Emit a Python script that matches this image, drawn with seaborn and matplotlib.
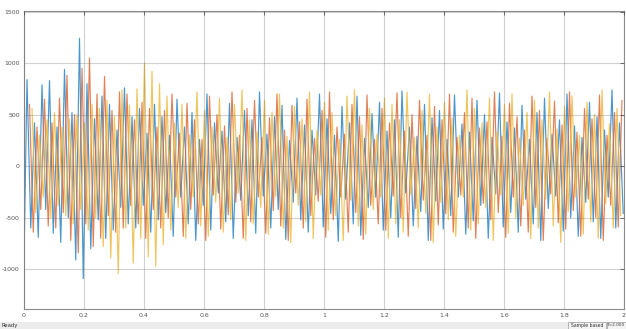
import numpy as np
import pandas as pd
import matplotlib
matplotlib.use("Agg")
import matplotlib.pyplot as plt
import seaborn as sns
from matplotlib.patches import Rectangle

# ---------------- data ----------------
freq_hz = 40.0            # cycles per second of each phase
n_cycles = 80
start_value_a = -910      # phase A value at t = 0

peaks_a = [840, 420, 790, 830, 380, 940, 520, 1240, 800, 460, 680, 600, 350, 760, 480, 560, 320, 600,
           480, 300, 650, 380, 520, 260, 700, 420, 340, 610, 280, 540, 450, 720, 310, 480, 590, 250, 660, 400,
           350, 700, 460, 300, 580, 420, 680, 270, 510, 620, 340, 450, 730, 380, 290, 600, 470, 540, 260, 690,
           410, 330, 640, 500, 280, 710, 430, 370, 590, 260, 520, 660, 310, 450, 700, 390, 280, 620, 480, 350,
           740, 420]
troughs_a = [-600, -690, -420, -650, -740, -500, -910, -1090, -800, -520, -700, -620, -400, -560, -600, -380, -640, -520,
             -450, -680, -300, -560, -720, -380, -620, -260, -540, -700, -330, -480, -650, -290, -600, -420, -710, -350,
             -520, -640, -280, -590, -460, -730, -320, -560, -670, -400, -300, -620, -500, -690, -260, -580, -440, -720,
             -340, -610, -480, -300, -660, -530, -380, -700, -270, -590, -450, -640, -320, -560, -720, -410, -290, -630,
             -500, -680, -350, -540, -700, -300, -600, -460]

peaks_b = [600, 380, 650, 420, 660, 880, 500, 950, 1050, 700, 870, 540, 720, 700, 450, 620, 560, 380,
           540, 700, 320, 610, 450, 260, 680, 500, 390, 720, 300, 560, 640, 280, 470, 700, 350, 590, 430, 650,
           270, 540, 720, 380, 310, 600, 480, 690, 260, 560, 420, 710, 340, 500, 640, 300, 580, 450, 700, 280,
           520, 660, 370, 430, 720, 290, 610, 480, 350, 680, 540, 270, 630, 400, 720, 330, 560, 460, 690, 300,
           520, 640]
troughs_b = [-640, -420, -580, -600, -450, -720, -840, -560, -780, -700, -480, -640, -600, -380, -560, -700, -420, -600,
             -500, -300, -680, -420, -560, -720, -280, -610, -470, -350, -700, -540, -300, -650, -430, -580, -720, -260,
             -600, -480, -340, -690, -520, -300, -640, -450, -710, -380, -560, -620, -290, -500, -680, -410, -330, -720,
             -570, -460, -640, -280, -600, -700, -360, -520, -450, -690, -300, -580, -640, -400, -720, -270, -550, -610,
             -430, -680, -320, -500, -720, -380, -590, -460]

peaks_c = [560, 300, 450, 520, 380, 460, 500, 420, 600, 560, 640, 480, 740, 590, 750, 1000, 920, 800,
           680, 420, 600, 300, 720, 540, 380, 660, 280, 600, 740, 450, 330, 640, 520, 700, 290, 580, 460, 720,
           350, 620, 520, 260, 680, 740, 400, 560, 310, 660, 600, 450, 720, 280, 540, 700, 380, 620, 470, 300,
           740, 560, 420, 660, 330, 600, 700, 270, 520, 640, 450, 720, 360, 580, 680, 300, 620, 500, 740, 410,
           560, 700]
troughs_c = [-450, -300, -500, -380, -480, -560, -420, -620, -500, -780, -890, -1040, -600, -940, -700, -880, -970, -760,
             -620, -400, -700, -300, -580, -680, -350, -640, -520, -260, -720, -560, -400, -660, -300, -600, -740, -380,
             -540, -700, -280, -620, -480, -720, -330, -580, -660, -420, -300, -700, -560, -640, -270, -600, -460, -740,
             -350, -520, -680, -300, -620, -560, -400, -720, -280, -650, -500, -380, -700, -600, -320, -580, -740, -440,
             -300, -660, -540, -700, -360, -600, -480, -680]

phase_names = ["A", "B", "C"]
x_ticks = [0, 0.2, 0.4, 0.6, 0.8, 1, 1.2, 1.4, 1.6, 1.8, 2]
x_tick_labels = ["0", "0.2", "0.4", "0.6", "0.8", "1", "1.2", "1.4", "1.6", "1.8", "2"]
y_ticks = [-1000, -500, 0, 500, 1000, 1500]
y_tick_labels = ["-1000", "-500", "0", "500", "1000", "1500"]
status_left = "Ready"
status_right = ["Sample based", "T=2.000"]

# ---------------- build long table ----------------
period = 1.0 / freq_hz
rows = []
series = [(peaks_a, troughs_a), (peaks_b, troughs_b), (peaks_c, troughs_c)]
for k, (pk, tr) in enumerate(series):
    offset = 0.01 + k * period / 3.0
    if k == 0:
        rows.append((0.0, start_value_a, phase_names[k]))
    for n in range(n_cycles):
        tp = offset + n * period
        tt = tp + period / 2.0
        if tp <= 2.0:
            rows.append((tp, pk[n], phase_names[k]))
        if tt <= 2.0:
            rows.append((tt, tr[n], phase_names[k]))
df = pd.DataFrame(rows, columns=["t", "value", "phase"]).sort_values(["phase", "t"])

# ---------------- figure ----------------
sns.set_style("white")
plt.rcParams["font.family"] = ["DejaVu Sans"]
fig = plt.figure(figsize=(6.26, 3.29), dpi=100)
fig.patch.set_facecolor("white")
W, H = 626, 329
ax = fig.add_axes([24 / W, (H - 309) / H, 600 / W, 298 / H])

palette = {"A": "#2a84c6", "B": "#dc6a3a", "C": "#eebb40"}
sns.lineplot(data=df, x="t", y="value", hue="phase", palette=palette, ax=ax,
             linewidth=0.85, legend=False, estimator=None, sort=False, alpha=0.85)

ax.set_xlim(0, 2)
ax.set_ylim(-1385, 1505)
ax.set_xticks(x_ticks)
ax.set_xticklabels(x_tick_labels)
ax.set_yticks(y_ticks)
ax.set_yticklabels(y_tick_labels)
ax.set_xlabel("")
ax.set_ylabel("")
ax.grid(True, color="#707070", linewidth=0.8, alpha=0.32)
ax.set_axisbelow(False)
for s in ax.spines.values():
    s.set_color("#8c8c8c")
    s.set_linewidth(0.8)
ax.tick_params(axis="both", labelsize=4.5, colors="#555555", length=3, width=0.6,
               direction="in", pad=3)
ax.tick_params(axis="x", top=True)
ax.tick_params(axis="y", right=True)

# status bar
fig.patches.append(Rectangle((0, 0), 1, 7 / H, transform=fig.transFigure,
                             facecolor="#ececec", edgecolor="none", zorder=0))
fig.text(2 / W, 3.5 / H, status_left, fontsize=3.8, color="#333333", va="center", ha="left")
fig.patches.append(Rectangle((568 / W, 0), 38 / W, 7 / H, transform=fig.transFigure,
                             facecolor="#f4f4f4", edgecolor="#9a9a9a", linewidth=0.5))
fig.text(587 / W, 3.5 / H, status_right[0], fontsize=3.3, color="#333333", va="center", ha="center")
fig.patches.append(Rectangle((607 / W, 0), 19 / W, 7 / H, transform=fig.transFigure,
                             facecolor="#f4f4f4", edgecolor="#9a9a9a", linewidth=0.5))
fig.text(616 / W, 3.5 / H, status_right[1], fontsize=3.1, color="#333333", va="center", ha="center")

fig.savefig("out.png", dpi=100)
